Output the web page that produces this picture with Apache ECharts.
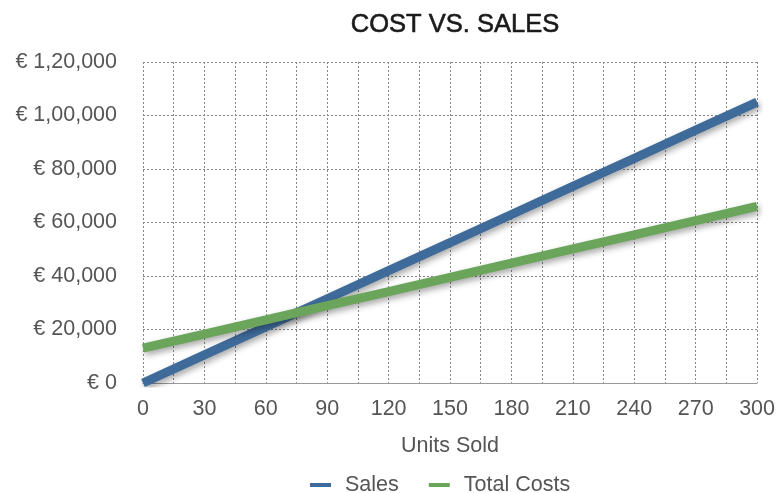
<!DOCTYPE html>
<html><head><meta charset="utf-8">
<script src="https://cdn.jsdelivr.net/npm/echarts@6/dist/echarts.min.js"></script>
<style>html,body{margin:0;padding:0;background:#fff}#c{width:778px;height:493px}</style>
</head><body><div id="c"></div>
<script>
const units = [0, 30, 60, 90, 120, 150, 180, 210, 240, 270, 300];
const sales = [0, 10500, 21000, 31500, 42000, 52500, 63000, 73500, 84000, 94500, 105000];
const totalCosts = [13000, 18300, 23600, 28900, 34200, 39500, 44800, 50100, 55400, 60700, 66000];
const seriesNames = ['Sales', 'Total Costs'];
const titleText = 'COST VS. SALES';
const xName = 'Units Sold';

function indian(v) {
  let s = String(Math.round(v));
  if (s.length <= 3) return s;
  let last3 = s.slice(-3), rest = s.slice(0, -3);
  rest = rest.replace(/\B(?=(\d{2})+(?!\d))/g, ',');
  return rest + ',' + last3;
}
const font = '"Liberation Sans", Arial, sans-serif';
const chart = echarts.init(document.getElementById('c'));
const shadow = {shadowColor: 'rgba(0,0,0,0.35)', shadowBlur: 6, shadowOffsetX: 2, shadowOffsetY: 3};
chart.setOption({
  animation: false,
  title: {text: titleText, left: 450, textAlign: 'center', top: 7,
    textStyle: {fontFamily: font, fontSize: 25.5, fontWeight: 'normal', color: '#1a1a1a',
      textBorderColor: '#1a1a1a', textBorderWidth: 0.6}},
  grid: {left: 143, right: 20, top: 62, bottom: 110, containLabel: false},
  legend: {top: 469, left: 305, icon: 'rect', itemWidth: 21, itemHeight: 4, itemGap: 30,
    textStyle: {fontFamily: font, fontSize: 21.5, color: '#555', padding: [0, 0, 0, 9]}, data: seriesNames},
  xAxis: {type: 'value', min: 0, max: 300, interval: 30,
    name: xName, nameLocation: 'middle', nameGap: 52,
    nameTextStyle: {fontFamily: font, fontSize: 21.5, color: '#555'},
    axisLine: {show: true, lineStyle: {color: '#999', width: 1}},
    axisTick: {show: false},
    axisLabel: {fontFamily: font, fontSize: 21.5, color: '#555', margin: 15},
    splitLine: {show: true, lineStyle: {color: '#888', type: [2, 2], width: 1}},
    minorTick: {show: false, splitNumber: 2},
    minorSplitLine: {show: true, lineStyle: {color: '#888', type: [2, 2], width: 1}}},
  yAxis: {type: 'value', min: 0, max: 120000, interval: 20000,
    axisLine: {show: false}, axisTick: {show: false},
    axisLabel: {fontFamily: font, fontSize: 21.5, color: '#555', margin: 26,
      formatter: v => '€ ' + indian(v)},
    splitLine: {show: true, lineStyle: {color: '#888', type: [2, 2], width: 1}}},
  series: [
    {name: seriesNames[0], type: 'line', showSymbol: false, symbol: 'none',
      data: units.map((u, i) => [u, sales[i]]),
      itemStyle: {color: '#3F6B9A'},
      lineStyle: Object.assign({color: '#3F6B9A', width: 9}, shadow)},
    {name: seriesNames[1], type: 'line', showSymbol: false, symbol: 'none',
      data: units.map((u, i) => [u, totalCosts[i]]),
      itemStyle: {color: '#6BA55B'},
      lineStyle: Object.assign({color: '#6BA55B', width: 9}, shadow)}
  ]
});
</script></body></html>
